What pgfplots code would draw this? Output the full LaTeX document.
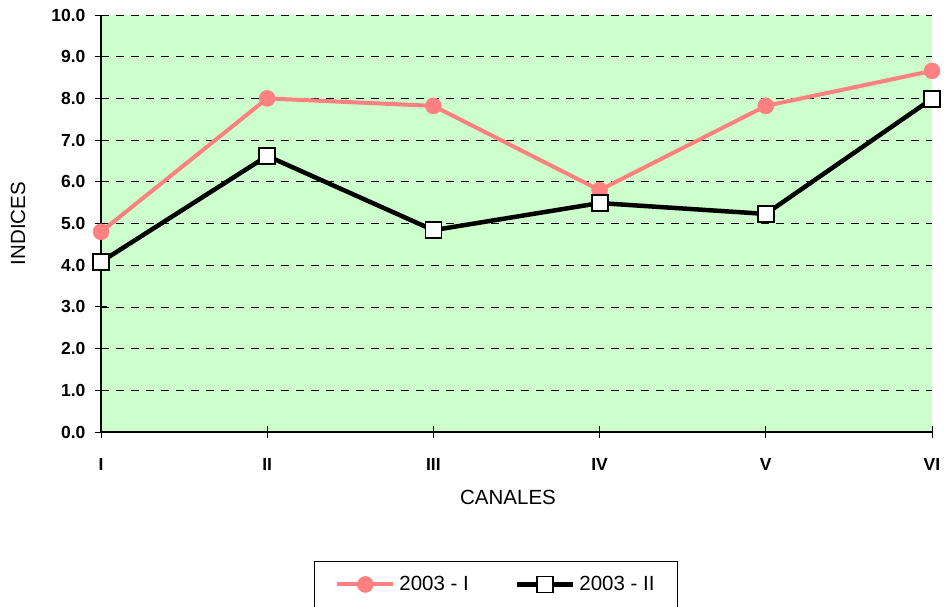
\documentclass[border=0pt]{standalone}
\usepackage{pgfplots}
\pgfplotsset{compat=1.18}
\usepackage{fontspec}
\setmainfont{Liberation Sans}
\definecolor{bgg}{HTML}{CCFFCC}
\definecolor{pinkl}{HTML}{FF8080}
\begin{document}
\begin{tikzpicture}[x=1pt,y=1pt]
\useasboundingbox (0,0) rectangle (944,606);
\begin{axis}[
  at={(101pt,174pt)}, anchor=origin,
  scale only axis, width=831pt, height=417pt,
  xmin=0, xmax=5, ymin=0, ymax=10,
  axis x line=bottom, axis y line=left,
  axis line style={-, line width=1.2pt, black},
  axis background/.style={fill=bgg},
  xtick={0,1,2,3,4,5},
  xticklabels={I,II,III,IV,V,VI},
  ytick={0,1,...,10},
  yticklabel style={/pgf/number format/fixed, /pgf/number format/fixed zerofill, /pgf/number format/precision=1, xshift=-6pt},
  /pgf/number format/assume math mode=true,
  ticklabel style={font=\fontsize{17.5}{20}\selectfont\bfseries},
  xtick style={line width=0.9pt, black},
  ytick style={line width=0.9pt, black},
  x tick label style={yshift=-17pt},
  major tick length=12pt,
  ymajorgrids,
  grid style={black, line width=0.8pt, dash pattern=on 8pt off 7pt},
  xlabel={CANALES}, ylabel={INDICES},
  label style={font=\fontsize{20.5}{24}\selectfont},
  xlabel style={at={(axis description cs:0.4898,0)}, anchor=center, yshift=-65pt},
  ylabel style={at={(axis description cs:-0.0999,0.5)}, anchor=center},
  clip=false,
  legend columns=2,
  legend style={at={(rel axis cs:0.4753,-0.3094)}, anchor=north,
    draw=black, line width=1pt, fill=white,
    font=\fontsize{20.5}{24}\selectfont,
    inner xsep=21pt, inner ysep=13pt,
    /tikz/every odd column/.append style={column sep=2pt},
    /tikz/every even column/.append style={column sep=44pt}},
  legend image code/.code={\draw[mark repeat=2,mark phase=2] plot coordinates {(0pt,0pt) (28pt,0pt) (56pt,0pt)};},
]
\addplot[color=pinkl, line width=4pt, mark=*, mark size=8pt, mark options={fill=pinkl, draw=pinkl, line width=0.5pt}]
  coordinates {(0,4.8) (1,8.0) (2,7.82) (3,5.8) (4,7.82) (5,8.66)};
\addlegendentry{2003 - I}
\addplot[color=black, line width=4.5pt, mark=square*, mark size=8pt, mark options={fill=white, draw=black, line width=1.8pt}]
  coordinates {(0,4.08) (1,6.62) (2,4.84) (3,5.49) (4,5.23) (5,7.99)};
\addlegendentry{2003 - II}
\end{axis}
\end{tikzpicture}
\end{document}
